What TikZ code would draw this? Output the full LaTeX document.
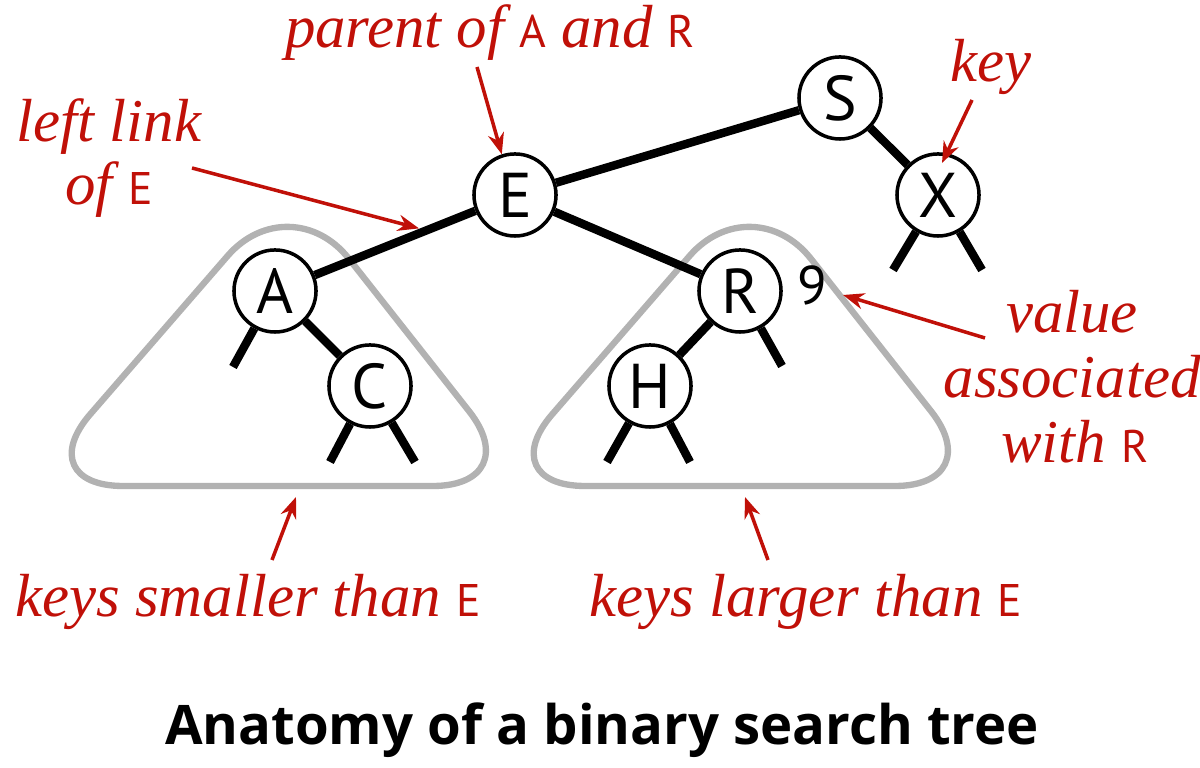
\documentclass[tikz,border=0pt]{standalone}
\usepackage{fontspec}
\usepackage{tikz}
\usetikzlibrary{arrows.meta,calc}
\newfontfamily\keyfont{PT Sans}
\newfontfamily\notefont{Liberation Serif}
\newfontfamily\titlefont{Open Sans}
\definecolor{annot}{RGB}{192,16,8}
\definecolor{subtreegray}{RGB}{178,178,178}
\newcommand{\lk}[1]{{\keyfont\upshape\fontsize{13}{15}\selectfont #1}}

\tikzset{
  bstnode/.style={circle, draw, line width=1pt, fill=white, minimum size=0.82cm,
    inner sep=0pt, font=\keyfont\fontsize{18}{20}\selectfont},
  link/.style={line width=2.4pt},
  note/.style={text=annot, font=\notefont\itshape\fontsize{17.3}{21}\selectfont, anchor=base, inner sep=0pt},
  pointer/.style={draw=annot, line width=1pt, -{Stealth[length=6pt,width=4.6pt]}},
  subtree/.style={draw=subtreegray, line width=1.8pt, rounded corners=0.95cm},
}

\begin{document}
\begin{tikzpicture}[x=0.01cm, y=-0.01cm]
    \useasboundingbox (0,0) rectangle (1200,768);
    % subtrees
    \draw[subtree] (290,184) -- (28,486) -- (528,486) -- cycle;
    \draw[subtree] (752,184) -- (490,486) -- (990,486) -- cycle;
    % tree
    \node[bstnode] (S) at (840,98) {S};
    \node[bstnode] (E) at (515,195) {E};
    \node[bstnode] (X) at (938,195) {X};
    \node[bstnode] (A) at (275,291) {A};
    \node[bstnode] (R) at (740,291) {R};
    \node[bstnode] (C) at (370,386) {C};
    \node[bstnode] (H) at (650,386) {H};
    \node[font=\keyfont\fontsize{15.5}{17}\selectfont, anchor=base, inner sep=0pt] (val) at (812,305) {9};
    \draw[link] (E) -- (S);
    \draw[link] (E) -- (A);
    \draw[link] (E) -- (R);
    \draw[link] (S) -- (X);
    \draw[link] (A) -- (C);
    \draw[link] (R) -- (H);
    % null links
    \coordinate (Anull) at (233,367);
    \coordinate (Cleft) at (330,462);
    \coordinate (Cright) at (415,462);
    \coordinate (Hleft) at (607,462);
    \coordinate (Hright) at (690,462);
    \coordinate (Rright) at (782,366);
    \coordinate (Xleft) at (893,270);
    \coordinate (Xright) at (982,270);
    \draw[link] (A) -- (Anull);
    \draw[link] (C) -- (Cleft);
    \draw[link] (C) -- (Cright);
    \draw[link] (H) -- (Hleft);
    \draw[link] (H) -- (Hright);
    \draw[link] (R) -- (Rright);
    \draw[link] (X) -- (Xleft);
    \draw[link] (X) -- (Xright);
    % annotations
    \node[note] (parent) at (490,48) {parent of \lk{A} and \lk{R}};
    \node[note] (leftlink) at (109,142) {left link};
    \node[note] (leftlinkE) at (109,205) {of \lk{E}};
    \node[note] (key) at (991,82) {key};
    \node[note] (value) at (1072,333) {value};
    \node[note] (assoc) at (1072,398) {associated};
    \node[note] (withR) at (1075,463) {with \lk{R}};
    \node[note] (smaller) at (248,617) {keys smaller than \lk{E}};
    \node[note] (larger) at (806,617) {keys larger than \lk{E}};
    \coordinate (parentFrom) at (477,67);
    \coordinate (leftFrom) at (192,168);
    \coordinate (keyFrom) at (972,100);
    \coordinate (keyTo) at (942,163);
    \coordinate (valueFrom) at (985,338);
    \coordinate (valueTo) at (843,295);
    \coordinate (smallerFrom) at (272,560);
    \coordinate (smallerTo) at (296,497);
    \coordinate (largerFrom) at (768,560);
    \coordinate (largerTo) at (745,497);
    \draw[pointer] (parentFrom) -- (E.108);
    \draw[pointer] (leftFrom) -- ($(E)!0.4!(A)+(0,-5)$);
    \draw[pointer] (keyFrom) -- (keyTo);
    \draw[pointer] (valueFrom) -- (valueTo);
    \draw[pointer] (smallerFrom) -- (smallerTo);
    \draw[pointer] (largerFrom) -- (largerTo);
    % caption
    \node[font=\titlefont\bfseries\fontsize{15.5}{20}\selectfont, anchor=base, inner sep=0pt] (title) at (602,745) {Anatomy of a binary search tree};
\end{tikzpicture}
\end{document}
